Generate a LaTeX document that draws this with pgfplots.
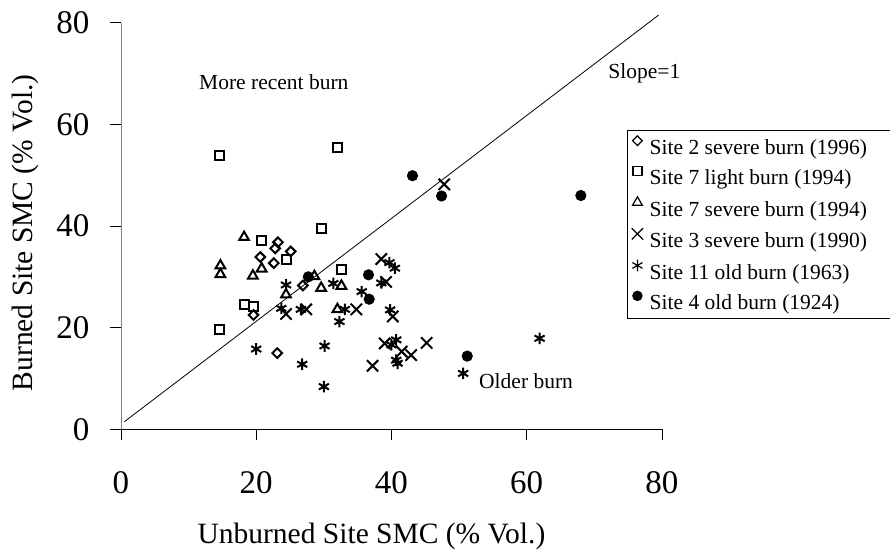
\documentclass[border=0pt]{standalone}
\usepackage{fontspec}
\setmainfont{Liberation Serif}
\usepackage{pgfplots}
\pgfplotsset{compat=1.18}
\begin{document}
\begin{tikzpicture}
\path[use as bounding box] (-121pt,-120.7pt) rectangle (769pt,429.3pt);
\begin{axis}[
  at={(0pt,0pt)}, anchor=south west,
  scale only axis, width=541pt, height=406.6pt,
  xmin=0, xmax=80, ymin=0, ymax=80,
  axis lines=left, axis line style={-},
  y axis line style={gray},
  xtick={0,20,40,60,80}, ytick={0,20,40,60,80},
  tick align=outside, major tick length=11pt,
  tick style={black, line width=0.6pt},
  tick label style={font=\fontsize{33}{38}\selectfont, /pgf/number format/assume math mode=true},
  xticklabel shift=28pt,
  yticklabel shift=17pt,
  xlabel={Unburned Site SMC (\% Vol.)},
  ylabel={Burned Site SMC (\% Vol.)},
  label style={font=\fontsize{29.5}{35}\selectfont},
  xlabel style={at={(axis description cs:0.463,-0.264)}, anchor=center},
  ylabel style={at={(axis description cs:-0.1775,0.483)}, anchor=center},
  clip=false,
  legend style={at={(axis description cs:0.935,0.736)}, anchor=north west,
    draw=black, line width=0.6pt, font=\fontsize{21.5}{25}\selectfont,
    row sep=8.6pt, inner xsep=0pt, inner ysep=5.5pt},
  legend cell align=left,
  legend image code/.code={\path (0pt,0pt) (20pt,0pt); \draw[#1, /tikz/every mark/.append style={line width=1.2pt}] plot coordinates {(10pt,7pt)};},
  every axis plot/.append style={only marks, black},
]
% Site 2 severe burn (1996)
\addplot[mark=square, mark size=3.4pt, mark options={rotate=45, line width=2pt}] coordinates {
(23.2,36.8)(22.8,35.6)(25.1,35.0)(20.6,33.9)(22.6,32.7)(26.9,28.3)(19.6,22.5)(23.1,15.0)};
\addlegendentry{Site 2 severe burn (1996)\rule{22pt}{0pt}}
% Site 7 light burn (1994)
\addplot[mark=square, mark size=4.5pt, mark options={line width=2pt}] coordinates {
(14.6,53.8)(32.0,55.4)(29.6,39.5)(20.8,37.2)(24.4,33.5)(32.6,31.4)(18.2,24.5)(19.6,24.1)(14.6,19.7)};
\addlegendentry{Site 7 light burn (1994)}
% Site 7 severe burn (1994)
\addplot[mark=triangle, mark size=5.6pt, mark options={line width=2pt}] coordinates {
(18.2,37.8)(14.7,32.2)(14.7,30.5)(19.5,30.2)(20.8,31.6)(28.6,30.1)(29.6,27.8)(32.6,28.2)(24.4,26.5)(32.0,23.6)};
\addlegendentry{Site 7 severe burn (1994)}
% Site 3 severe burn (1990)
\addplot[mark=x, mark size=8pt, mark options={line width=2pt}] coordinates {
(24.4,22.7)(27.4,23.6)(38.5,33.5)(39.2,29.0)(34.8,23.6)(40.2,22.2)(39.0,16.9)(45.2,17.0)(42.9,14.6)(37.2,12.5)(47.8,48.2)(41.5,15.3)};
\addlegendentry{Site 3 severe burn (1990)}
% Site 11 old burn (1963)
\addplot[mark=asterisk, mark size=5.8pt, mark options={line width=2pt}] coordinates {
(24.4,28.4)(23.7,23.8)(26.6,23.6)(31.4,28.7)(39.7,32.8)(40.5,31.7)(38.5,28.8)(35.6,27.1)(33.1,23.6)(32.3,21.2)(39.8,23.5)(40.7,17.6)(40.0,16.6)(40.7,13.6)(40.9,13.0)(20.0,15.8)(30.1,16.4)(26.8,12.8)(30.0,8.4)(50.6,11.0)(61.9,17.9)};
\addlegendentry{Site 11 old burn (1963)}
% Site 4 old burn (1924)
\addplot[mark=*, mark size=4.6pt, mark options={line width=1.9pt}] coordinates {
(27.7,30.0)(36.6,30.4)(36.7,25.6)(43.1,49.9)(47.4,45.9)(68.0,46.0)(51.2,14.4)};
\addlegendentry{Site 4 old burn (1924)}
% Slope = 1 line
\addplot[forget plot, sharp plot, no marks, line width=0.8pt] coordinates {(0.5,1.5)(79.5,81.5)};
\node[font=\fontsize{21.5}{25}\selectfont] at (axis cs:22.6,68.4) {More recent burn};
\node[font=\fontsize{21.5}{25}\selectfont] at (axis cs:77.4,70.1) {Slope=1};
\node[font=\fontsize{21.5}{25}\selectfont] at (axis cs:59.9,9.4) {Older burn};
\end{axis}
\end{tikzpicture}
\end{document}
